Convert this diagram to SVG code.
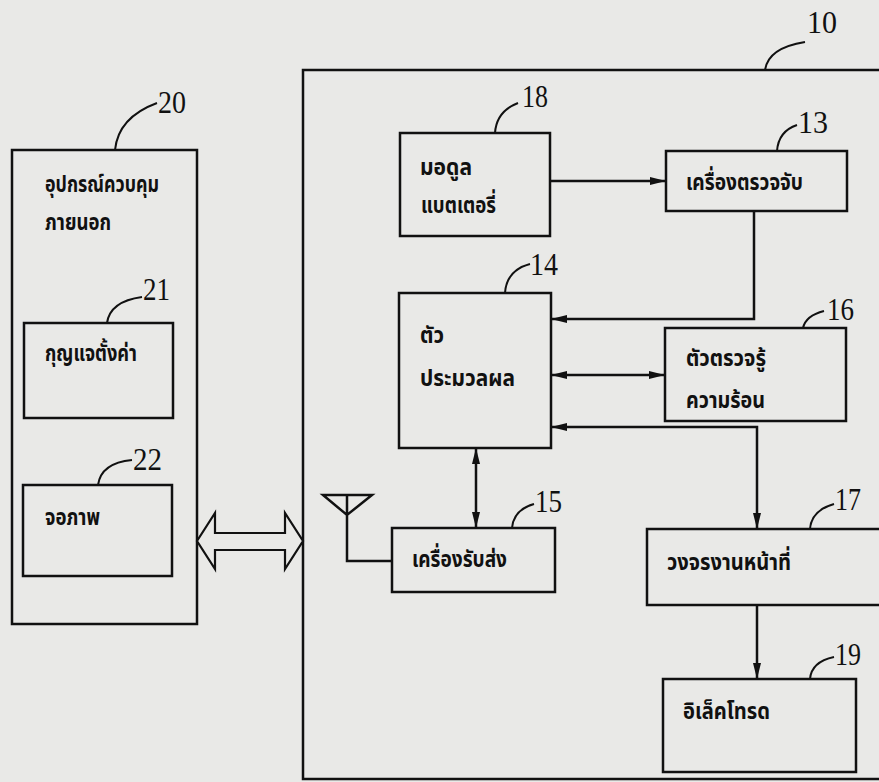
<svg xmlns="http://www.w3.org/2000/svg" width="879" height="782" viewBox="0 0 879 782">
<style>
.bg{fill:#e9e9e7}
.box{fill:none;stroke:#111;stroke-width:2.5}
.ln{fill:none;stroke:#111;stroke-width:2.5}
.ld{fill:none;stroke:#111;stroke-width:2}
.th{font-family:"Noto Sans Thai","Noto Sans","DejaVu Sans",sans-serif;font-size:23px;font-weight:bold;fill:#111}
.num{font-family:"Liberation Serif",serif;font-size:32px;fill:#111}
</style>
<defs>
<marker id="ah" viewBox="0 0 16 8" refX="16" refY="4" markerWidth="16" markerHeight="8" markerUnits="userSpaceOnUse" orient="auto-start-reverse">
<path d="M0,0 L16,4 L0,8 z" fill="#111"/>
</marker>
</defs>
<rect class="bg" x="0" y="0" width="879" height="782"/>

<g id="n20">
<rect class="box" x="12" y="150" width="185" height="474"/>
<path class="ld" d="M115,150 C117,130 130,113 157,103"/>
<text class="num" x="158" y="113" textLength="28" lengthAdjust="spacingAndGlyphs">20</text>
<text class="th" x="45" y="192" textLength="114" lengthAdjust="spacingAndGlyphs">อุปกรณ์ควบคุม</text>
<text class="th" x="45" y="230" textLength="66" lengthAdjust="spacingAndGlyphs">ภายนอก</text>
</g>
<g id="n21">
<rect class="box" x="24" y="323" width="149" height="95"/>
<path class="ld" d="M107,323 C109,309 120,300 142,297"/>
<text class="num" x="143" y="300" textLength="27" lengthAdjust="spacingAndGlyphs">21</text>
<text class="th" x="45" y="361" textLength="92" lengthAdjust="spacingAndGlyphs">กุญแจตั้งค่า</text>
</g>
<g id="n22">
<rect class="box" x="23" y="485" width="149" height="91"/>
<path class="ld" d="M98,485 C100,471 111,462 132,460"/>
<text class="num" x="133" y="470" textLength="29" lengthAdjust="spacingAndGlyphs">22</text>
<text class="th" x="45" y="525" textLength="55" lengthAdjust="spacingAndGlyphs">จอภาพ</text>
</g>

<g id="n10">
<rect class="box" x="303" y="70" width="620" height="709"/>
<path class="ld" d="M765,70 C767,56 780,46 805,42"/>
<text class="num" x="807" y="33" textLength="30" lengthAdjust="spacingAndGlyphs">10</text>
</g>
<g id="n18">
<rect class="box" x="400" y="133" width="150" height="103"/>
<path class="ld" d="M495,133 C496,118 505,108 518,103"/>
<text class="num" x="522" y="107" textLength="26" lengthAdjust="spacingAndGlyphs">18</text>
<text class="th" x="420" y="175" textLength="52" lengthAdjust="spacingAndGlyphs">มอดูล</text>
<text class="th" x="421" y="213" textLength="75" lengthAdjust="spacingAndGlyphs">แบตเตอรี่</text>
</g>
<g id="n13">
<rect class="box" x="666" y="151" width="181" height="60"/>
<path class="ld" d="M777,151 C778,138 785,129 797,125"/>
<text class="num" x="798" y="133" textLength="30" lengthAdjust="spacingAndGlyphs">13</text>
<text class="th" x="686" y="190" textLength="117" lengthAdjust="spacingAndGlyphs">เครื่องตรวจจับ</text>
</g>
<g id="n14">
<rect class="box" x="399" y="293" width="152" height="155"/>
<path class="ld" d="M505,293 C506,278 515,268 530,264"/>
<text class="num" x="530" y="275" textLength="28" lengthAdjust="spacingAndGlyphs">14</text>
<text class="th" x="420" y="343" textLength="24" lengthAdjust="spacingAndGlyphs">ตัว</text>
<text class="th" x="420" y="386" textLength="95" lengthAdjust="spacingAndGlyphs">ประมวลผล</text>
</g>
<g id="n16">
<rect class="box" x="665" y="328" width="181" height="93"/>
<path class="ld" d="M803,328 C805,319 812,314 824,311"/>
<text class="num" x="827" y="320" textLength="27" lengthAdjust="spacingAndGlyphs">16</text>
<text class="th" x="686" y="366" textLength="80" lengthAdjust="spacingAndGlyphs">ตัวตรวจรู้</text>
<text class="th" x="686" y="408" textLength="79" lengthAdjust="spacingAndGlyphs">ความร้อน</text>
</g>
<g id="n15">
<rect class="box" x="392" y="528" width="163" height="64"/>
<path class="ld" d="M512,528 C513,516 520,508 534,504"/>
<text class="num" x="535" y="512" textLength="27" lengthAdjust="spacingAndGlyphs">15</text>
<text class="th" x="412" y="567" textLength="95" lengthAdjust="spacingAndGlyphs">เครื่องรับส่ง</text>
</g>
<g id="n17">
<rect class="box" x="647" y="529" width="260" height="76"/>
<path class="ld" d="M810,529 C811,516 820,508 834,504"/>
<text class="num" x="835" y="510" textLength="26" lengthAdjust="spacingAndGlyphs">17</text>
<text class="th" x="667" y="570" textLength="124" lengthAdjust="spacingAndGlyphs">วงจรงานหน้าที่</text>
</g>
<g id="n19">
<rect class="box" x="663" y="679" width="193" height="93"/>
<path class="ld" d="M810,679 C811,667 820,660 834,657"/>
<text class="num" x="835" y="665" textLength="26" lengthAdjust="spacingAndGlyphs">19</text>
<text class="th" x="683" y="719" textLength="87" lengthAdjust="spacingAndGlyphs">อิเล็คโทรด</text>
</g>
<g id="antenna">
<path class="ln" d="M323,495 H372 L347,515 Z M347,495 V561 H392"/>
</g>

<g id="connectors">
<path class="ln" d="M550,181 H666" marker-end="url(#ah)"/>
<path class="ln" d="M754,211 V319 H551" marker-end="url(#ah)"/>
<path class="ln" d="M551,375 H665" marker-start="url(#ah)" marker-end="url(#ah)"/>
<path class="ln" d="M551,427 H757 V529" marker-start="url(#ah)" marker-end="url(#ah)"/>
<path class="ln" d="M476,448 V528" marker-start="url(#ah)" marker-end="url(#ah)"/>
<path class="ln" d="M757,605 V679" marker-end="url(#ah)"/>
<path fill="#e9e9e7" stroke="#111" stroke-width="2.2" stroke-linejoin="miter" d="M197,541 L215,513 L215,533 L285,533 L285,513 L303,541 L285,569 L285,550 L215,550 L215,569 Z"/>
</g>
</svg>
